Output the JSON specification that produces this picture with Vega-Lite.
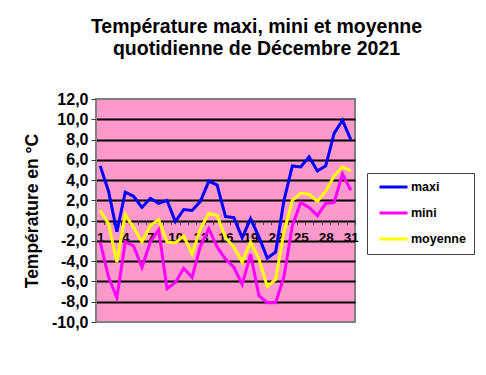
{
  "$schema": "https://vega.github.io/schema/vega-lite/v6.json",
  "width": 259,
  "height": 223,
  "autosize": {"type": "none"},
  "padding": {"left": 96, "top": 99, "right": 131, "bottom": 53},
  "background": "white",
  "title": {
    "text": ["Température maxi, mini et moyenne", "quotidienne de Décembre 2021"],
    "font": "Liberation Sans",
    "fontSize": 19.5,
    "fontWeight": "bold",
    "color": "black",
    "anchor": "middle",
    "lineHeight": 22,
    "dx": 31,
    "offset": 32
  },
  "data": {
    "values": [
      {"jour": 1, "maxi": 5.4, "mini": -2.1, "moyenne": 1.0},
      {"jour": 2, "maxi": 2.9, "mini": -5.6, "moyenne": -0.3},
      {"jour": 3, "maxi": -1.1, "mini": -7.6, "moyenne": -4.1},
      {"jour": 4, "maxi": 2.8, "mini": -2.1, "moyenne": 0.6},
      {"jour": 5, "maxi": 2.4, "mini": -2.5, "moyenne": -0.7},
      {"jour": 6, "maxi": 1.3, "mini": -4.6, "moyenne": -2.1},
      {"jour": 7, "maxi": 2.2, "mini": -2.1, "moyenne": -0.5},
      {"jour": 8, "maxi": 1.7, "mini": -0.9, "moyenne": 0.1},
      {"jour": 9, "maxi": 2.0, "mini": -6.7, "moyenne": -2.1},
      {"jour": 10, "maxi": -0.1, "mini": -6.1, "moyenne": -2.2},
      {"jour": 11, "maxi": 1.1, "mini": -4.7, "moyenne": -1.5},
      {"jour": 12, "maxi": 1.0, "mini": -5.6, "moyenne": -3.3},
      {"jour": 13, "maxi": 1.9, "mini": -2.5, "moyenne": -0.8},
      {"jour": 14, "maxi": 3.9, "mini": -0.8, "moyenne": 0.7},
      {"jour": 15, "maxi": 3.5, "mini": -2.6, "moyenne": 0.5},
      {"jour": 16, "maxi": 0.4, "mini": -3.8, "moyenne": -1.7},
      {"jour": 17, "maxi": 0.3, "mini": -4.6, "moyenne": -2.6},
      {"jour": 18, "maxi": -1.7, "mini": -6.3, "moyenne": -4.1},
      {"jour": 19, "maxi": 0.2, "mini": -3.3, "moyenne": -2.1},
      {"jour": 20, "maxi": -1.6, "mini": -7.4, "moyenne": -3.8},
      {"jour": 21, "maxi": -3.7, "mini": -8.1, "moyenne": -6.5},
      {"jour": 22, "maxi": -3.1, "mini": -8.1, "moyenne": -5.8},
      {"jour": 23, "maxi": 2.0, "mini": -5.5, "moyenne": -1.1},
      {"jour": 24, "maxi": 5.4, "mini": -0.5, "moyenne": 2.0},
      {"jour": 25, "maxi": 5.3, "mini": 1.8, "moyenne": 2.7},
      {"jour": 26, "maxi": 6.3, "mini": 1.3, "moyenne": 2.6},
      {"jour": 27, "maxi": 4.9, "mini": 0.5, "moyenne": 1.9},
      {"jour": 28, "maxi": 5.4, "mini": 1.7, "moyenne": 2.9},
      {"jour": 29, "maxi": 8.6, "mini": 1.8, "moyenne": 4.4},
      {"jour": 30, "maxi": 9.9, "mini": 4.6, "moyenne": 5.3},
      {"jour": 31, "maxi": 8.0, "mini": 3.0, "moyenne": 4.9}
    ]
  },
  "transform": [{"fold": ["maxi", "mini", "moyenne"], "as": ["serie", "temp"]}],
  "mark": {"type": "line", "strokeWidth": 3, "clip": false},
  "encoding": {
    "x": {
      "field": "jour",
      "type": "quantitative",
      "scale": {"domain": [0.5, 31.5], "nice": false, "zero": false},
      "axis": {
        "title": null,
        "orient": "bottom",
        "offset": -101.4,
        "grid": false,
        "domain": false,
        "values": [0.5,1.5,2.5,3.5,4.5,5.5,6.5,7.5,8.5,9.5,10.5,11.5,12.5,13.5,14.5,15.5,16.5,17.5,18.5,19.5,20.5,21.5,22.5,23.5,24.5,25.5,26.5,27.5,28.5,29.5,30.5,31.5],
        "labelExpr": "(datum.value < 31 && (datum.value - 0.5) % 3 == 0) ? toString(datum.value + 0.5) : ''",
        "labelOffset": 4.18,
        "labelFlush": false,
        "labelOverlap": false,
        "labelFont": "Liberation Sans",
        "labelFontSize": 13.5,
        "labelFontWeight": "bold",
        "labelColor": "black",
        "labelPadding": 6,
        "tickSize": 4,
        "tickColor": "#404040",
        "tickWidth": 1
      }
    },
    "y": {
      "field": "temp",
      "type": "quantitative",
      "scale": {"domain": [-10, 12], "nice": false, "zero": false},
      "axis": {
        "title": "Température en °C",
        "titleFont": "Liberation Sans",
        "titleFontSize": 17.5,
        "titleFontWeight": "bold",
        "titleColor": "black",
        "titlePadding": 10,
        "values": [-10,-8,-6,-4,-2,0,2,4,6,8,10,12],
        "labelExpr": "replace(replace(format(datum.value, '.1f'), '.', ','), '\u2212', '-')",
        "labelFont": "Liberation Sans",
        "labelFontSize": 16,
        "labelFontWeight": "bold",
        "labelColor": "black",
        "labelPadding": 3,
        "tickSize": 5,
        "tickColor": "#404040",
        "domainColor": "#808080",
        "grid": true,
        "gridColor": {"condition": {"test": "datum.value == 12 || datum.value == -10", "value": "transparent"}, "value": "black"},
        "gridWidth": 2,
        "gridOpacity": 1
      }
    },
    "color": {
      "field": "serie",
      "type": "nominal",
      "scale": {"domain": ["maxi", "mini", "moyenne"], "range": ["#0000FF", "#FF00FF", "#FFFF00"]},
      "legend": {
        "title": null,
        "orient": "none",
        "legendX": 271,
        "legendY": 74,
        "symbolType": "stroke",
        "symbolSize": 784,
        "symbolStrokeWidth": 3,
        "symbolOffset": 3,
        "clipHeight": 12,
        "labelFont": "Liberation Sans",
        "labelFontSize": 12.5,
        "labelFontWeight": "bold",
        "labelColor": "black",
        "labelOffset": 2,
        "rowPadding": 13,
        "padding": 8,
        "strokeColor": "#404040",
        "fillColor": "white"
      }
    }
  },
  "config": {
    "view": {"fill": "#FF99CC", "stroke": "#808080", "strokeWidth": 2}
  }
}
